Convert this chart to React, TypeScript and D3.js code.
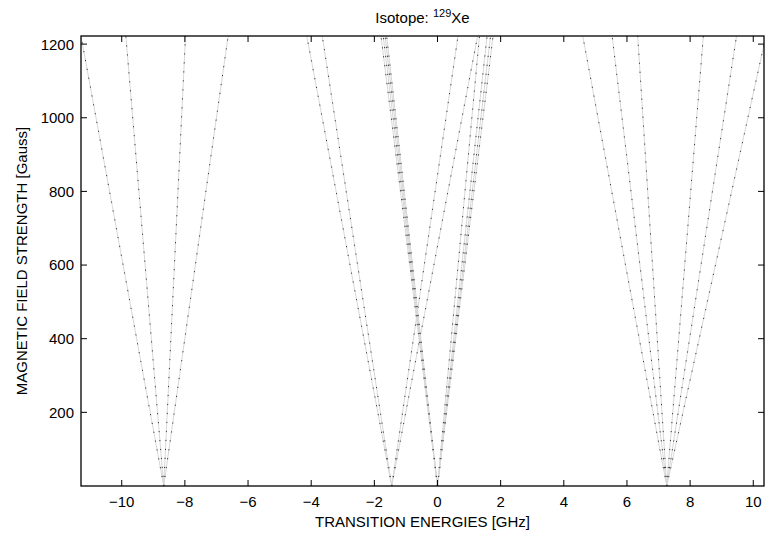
import React from "react";
import * as d3 from "d3";

// transition energies [GHz] at zero field and at the top of the field sweep
const zeroFieldEnergy = [
  -8.67, -8.67, -8.67, -8.67,
  -1.45, -1.45, -1.45, -1.45,
  0, 0, 0, 0, 0, 0, 0, 0,
  7.26, 7.26, 7.26, 7.26, 7.26, 7.26,
];
const maxFieldEnergy = [
  -11.29, -9.87, -7.98, -6.63,
  -4.14, -3.65, 0.65, 1.27,
  -1.79, -1.72, -1.66, -1.61, 1.33, 1.57, 1.68, 1.76,
  4.6, 5.53, 6.34, 8.42, 9.47, 10.4,
];
const fieldRange = [0, 1222];
const energyRange = [-11.29, 10.34];
const xTicks = [-10, -8, -6, -4, -2, 0, 2, 4, 6, 8, 10];
const yTicks = [200, 400, 600, 800, 1000, 1200];

const W = 768;
const H = 538;
const m = { left: 81, right: 4, top: 36, bottom: 52 };
const font = "'Liberation Sans', Arial, Helvetica, sans-serif";

export default function App() {
  const x = d3.scaleLinear().domain(energyRange).range([m.left, W - m.right]);
  const y = d3.scaleLinear().domain(fieldRange).range([H - m.bottom, m.top]);
  const [x0, x1] = x.range();
  const [y0, y1] = y.range();

  const line = d3
    .line<[number, number]>()
    .x((d) => x(d[0]))
    .y((d) => y(d[1]));

  const lines = zeroFieldEnergy.map((e0, i) => [
    [e0, fieldRange[0]],
    [maxFieldEnergy[i], fieldRange[1]],
  ] as [number, number][]);

  const tick = 6;

  return (
    <div style={{ position: "absolute", left: 0, top: 0 }}>
      <svg width={W} height={H} style={{ display: "block", background: "#fff" }}>
        <defs>
          <clipPath id="plotArea">
            <rect x={x0} y={y1} width={x1 - x0} height={y0 - y1} />
          </clipPath>
        </defs>

        <g clipPath="url(#plotArea)">
          {lines.map((d, i) => (
            <g key={i}>
              <path d={line(d) || ""} fill="none" stroke="#d8d8d8" strokeWidth={1} />
              <path
                d={line(d) || ""}
                fill="none"
                stroke="#3a3a3a"
                strokeWidth={1}
                strokeDasharray="1.2 7.8"
              />
            </g>
          ))}
        </g>

        {/* box */}
        <rect
          x={x0}
          y={y1}
          width={x1 - x0}
          height={y0 - y1}
          fill="none"
          stroke="#000"
          strokeWidth={1.3}
        />

        {/* x ticks */}
        {xTicks.map((t) => (
          <g key={"x" + t}>
            <line x1={x(t)} x2={x(t)} y1={y0} y2={y0 - tick} stroke="#000" />
            <line x1={x(t)} x2={x(t)} y1={y1} y2={y1 + tick} stroke="#000" />
            <text
              x={x(t)}
              y={y0 + 21}
              textAnchor="middle"
              fontFamily={font}
              fontSize={15}
            >
              {t < 0 ? "\u2212" + Math.abs(t) : t}
            </text>
          </g>
        ))}

        {/* y ticks */}
        {yTicks.map((t) => (
          <g key={"y" + t}>
            <line x1={x0} x2={x0 + tick} y1={y(t)} y2={y(t)} stroke="#000" />
            <line x1={x1} x2={x1 - tick} y1={y(t)} y2={y(t)} stroke="#000" />
            <text
              x={x0 - 7}
              y={y(t)}
              dy="0.36em"
              textAnchor="end"
              fontFamily={font}
              fontSize={15}
            >
              {t}
            </text>
          </g>
        ))}

        <text
          x={(x0 + x1) / 2}
          y={527}
          textAnchor="middle"
          fontFamily={font}
          fontSize={15}
        >
          TRANSITION ENERGIES [GHz]
        </text>

        <text
          transform={`translate(27,${(y0 + y1) / 2}) rotate(-90)`}
          textAnchor="middle"
          fontFamily={font}
          fontSize={15}
        >
          MAGNETIC FIELD STRENGTH [Gauss]
        </text>

        <text
          x={(x0 + x1) / 2}
          y={23}
          textAnchor="middle"
          fontFamily={font}
          fontSize={15}
        >
          Isotope: <tspan fontSize={11} dy={-6}>129</tspan>
          <tspan dy={6}>Xe</tspan>
        </text>
      </svg>
    </div>
  );
}
